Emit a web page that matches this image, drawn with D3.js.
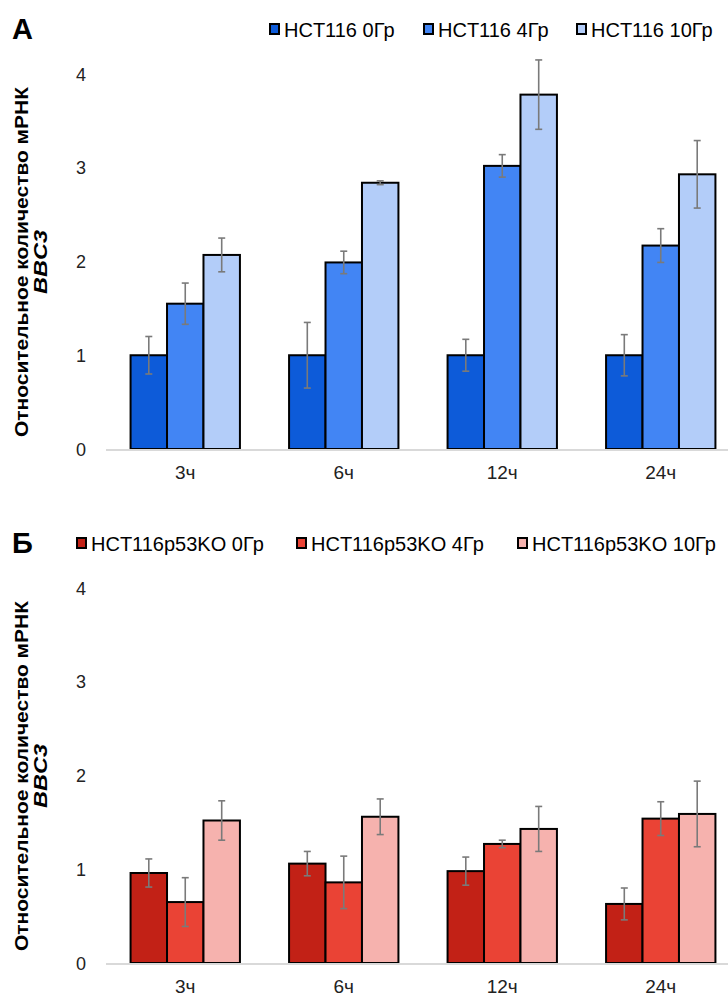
<!DOCTYPE html>
<html>
<head>
<meta charset="utf-8">
<script src="https://cdn.jsdelivr.net/npm/d3@7"></script>
<style>
  body { margin: 0; background: #fff; }
  svg { display: block; font-family: "Liberation Sans", Arial, sans-serif; }
</style>
</head>
<body>
<svg id="chart" width="728" height="1000"></svg>
<script>
// Time points and tick values
const timepoints = ["3ч", "6ч", "12ч", "24ч"];
const yTicks = [0, 1, 2, 3, 4];

// Panel А: HCT116
const seriesA = ["HCT116 0Гр", "HCT116 4Гр", "HCT116 10Гр"];
const valuesA0 = [1.0, 1.0, 1.0, 1.0];
const valuesA4 = [1.55, 1.99, 3.02, 2.17];
const valuesA10 = [2.07, 2.84, 3.78, 2.93];
const errA0 = [0.2, 0.35, 0.17, 0.22];
const errA4 = [0.22, 0.12, 0.12, 0.18];
const errA10 = [0.18, 0.02, 0.37, 0.36];
const colorsA = ["#0d5bd9", "#4285f4", "#b3cdf9"];

// Panel Б: HCT116p53KO
const seriesB = ["HCT116p53KO 0Гр", "HCT116p53KO 4Гр", "HCT116p53KO 10Гр"];
const valuesB0 = [0.96, 1.06, 0.98, 0.63];
const valuesB4 = [0.65, 0.86, 1.27, 1.54];
const valuesB10 = [1.52, 1.56, 1.43, 1.59];
const errB0 = [0.15, 0.13, 0.15, 0.17];
const errB4 = [0.26, 0.28, 0.04, 0.18];
const errB10 = [0.21, 0.19, 0.24, 0.35];
const colorsB = ["#c22116", "#ea4335", "#f6b2ae"];

const svg = d3.select("#chart");

function drawPanel(opts) {
  const { letter, top, series, values, errors, colors, legendX } = opts;
  const g = svg.append("g").attr("transform", `translate(0,${top})`);

  const y = d3.scaleLinear().domain([0, 4]).range([449, 74]);
  const x = d3.scaleBand().domain(timepoints).range([106, 740])
    .paddingInner(0.31).paddingOuter(0.155);
  const xs = d3.scaleBand().domain(d3.range(series.length)).range([0, x.bandwidth()]);

  // Panel letter
  g.append("text").attr("x", 12).attr("y", 39)
    .attr("font-size", 29).attr("font-weight", "bold").text(letter);

  // Legend
  const leg = g.selectAll("g.leg").data(series).join("g")
    .attr("transform", (d, i) => `translate(${legendX[i]},0)`);
  leg.append("rect").attr("x", 1).attr("y", 24).attr("width", 9).attr("height", 10)
    .attr("fill", (d, i) => colors[i]).attr("stroke", "#000").attr("stroke-width", 2);
  leg.append("text").attr("x", 15).attr("y", 37).attr("font-size", 20)
    .attr("fill", "#000").text(d => d);

  // Y axis tick labels
  const yAxis = d3.axisLeft(y).tickValues(yTicks).tickSize(0).tickPadding(0)
    .tickFormat(d3.format("d"));
  const ya = g.append("g").attr("transform", "translate(86,0)").call(yAxis);
  ya.select(".domain").remove();
  ya.selectAll("text").attr("font-size", 18).attr("fill", "#222")
    .attr("font-family", "Liberation Sans, Arial, sans-serif").attr("dy", "0.34em");

  // Y axis title (two lines, rotated)
  const cy = 262;
  const title = g.append("text").attr("transform", `translate(28,${cy}) rotate(-90)`)
    .attr("text-anchor", "middle").attr("font-size", 18).attr("font-weight", "bold");
  title.append("tspan").attr("x", 0).attr("y", 0)
    .attr("textLength", 350).attr("lengthAdjust", "spacingAndGlyphs")
    .text("Относительное количество мРНК");
  title.append("tspan").attr("x", 0).attr("y", 19).attr("font-style", "italic")
    .attr("textLength", 64).attr("lengthAdjust", "spacingAndGlyphs")
    .text("BBC3");

  // Bars
  const groups = g.selectAll("g.grp").data(timepoints).join("g")
    .attr("transform", d => `translate(${x(d)},0)`);

  groups.each(function (t, ti) {
    const gg = d3.select(this);
    series.forEach((s, si) => {
      const v = values[si][ti];
      gg.append("rect")
        .attr("x", xs(si)).attr("y", y(v))
        .attr("width", xs.bandwidth()).attr("height", y(0) - y(v))
        .attr("fill", colors[si]).attr("stroke", "#000").attr("stroke-width", 2);
    });
  });

  // X axis baseline
  g.append("line").attr("x1", 106).attr("x2", 740).attr("y1", y(0) + 1).attr("y2", y(0) + 1)
    .attr("stroke", "#d9d9d9").attr("stroke-width", 2);

  // Error bars
  groups.each(function (t, ti) {
    const gg = d3.select(this);
    series.forEach((s, si) => {
      const v = values[si][ti], e = errors[si][ti];
      const cx = xs(si) + xs.bandwidth() / 2;
      const eb = gg.append("g").attr("stroke", "#7a7a7a").attr("stroke-width", 1.6);
      eb.append("line").attr("x1", cx).attr("x2", cx).attr("y1", y(v + e)).attr("y2", y(v - e));
      eb.append("line").attr("x1", cx - 3.5).attr("x2", cx + 3.5).attr("y1", y(v + e)).attr("y2", y(v + e));
      eb.append("line").attr("x1", cx - 3.5).attr("x2", cx + 3.5).attr("y1", y(v - e)).attr("y2", y(v - e));
    });
  });

  // X axis labels
  const xAxis = d3.axisBottom(x).tickSize(0).tickPadding(0);
  const xa = g.append("g").attr("transform", `translate(0,${y(0)})`).call(xAxis);
  xa.select(".domain").remove();
  xa.selectAll("text").attr("font-size", 19).attr("fill", "#222")
    .attr("font-family", "Liberation Sans, Arial, sans-serif").attr("dy", "1.6em");
}

drawPanel({
  letter: "А", top: 0, series: seriesA,
  values: [valuesA0, valuesA4, valuesA10],
  errors: [errA0, errA4, errA10],
  colors: colorsA, legendX: [269, 423, 576]
});

drawPanel({
  letter: "Б", top: 514, series: seriesB,
  values: [valuesB0, valuesB4, valuesB10],
  errors: [errB0, errB4, errB10],
  colors: colorsB, legendX: [76, 296, 517]
});
</script>
</body>
</html>
